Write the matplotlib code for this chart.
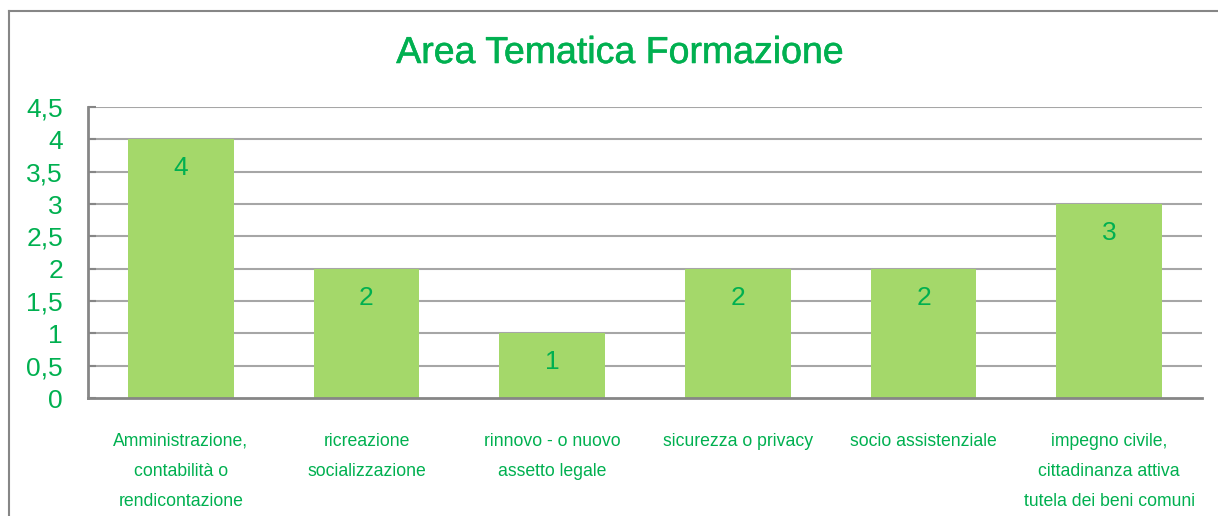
import matplotlib
matplotlib.use("Agg")
import matplotlib.pyplot as plt
from matplotlib.lines import Line2D
import matplotlib.patheffects as pe

categories = [
    "Amministrazione,\ncontabilità o\nrendicontazione",
    "ricreazione\nsocializzazione",
    "rinnovo - o nuovo\nassetto legale",
    "sicurezza o privacy",
    "socio assistenziale",
    "impegno civile,\ncittadinanza attiva\ntutela dei beni comuni",
]
values = [4, 2, 1, 2, 2, 3]
yticks = [0, 0.5, 1, 1.5, 2, 2.5, 3, 3.5, 4, 4.5]
ytick_labels = ["0", "0,5", "1", "1,5", "2", "2,5", "3", "3,5", "4", "4,5"]
title = "Area Tematica Formazione"

GREEN = "#00B050"
BAR = "#A4D86A"
GRID = "#A6A6A6"
SPINE = "#868686"

plt.rcParams["font.family"] = ["Liberation Sans", "DejaVu Sans"]

W, H = 1218, 516
fig = plt.figure(figsize=(W / 100, H / 100), dpi=100)
ax = fig.add_axes([88 / W, 1 - 398 / H, (1202 - 88) / W, (398 - 107) / H])

x = list(range(len(categories)))
ax.bar(x, values, width=0.57, color=BAR, zorder=3)
ax.set_xlim(-0.5, len(categories) - 0.5)
ax.set_ylim(0, 4.5)
ax.set_yticks(yticks)
ax.set_yticklabels(ytick_labels, fontsize=19, color=GREEN)
ax.tick_params(axis="y", direction="in", length=6, width=1.5, color=SPINE, pad=18)
ax.set_xticks(x)
ax.set_xticklabels([])
ax.tick_params(axis="x", length=0)
for yv in yticks[1:]:
    ax.axhline(yv, color=GRID, lw=1.5, zorder=1)
for s in ["right", "top"]:
    ax.spines[s].set_visible(False)
for s in ["left", "bottom"]:
    ax.spines[s].set_color(SPINE)
    ax.spines[s].set_linewidth(2)
    ax.spines[s].set_zorder(4)

for xi, v, lab in zip(x, values, categories):
    ax.annotate(str(v), (xi, v), xytext=(0, -29), textcoords="offset pixels",
                ha="center", va="center", fontsize=19, color=GREEN, zorder=5)
    ax.annotate(lab, (xi, 0), xytext=(0, -35), textcoords="offset pixels",
                ha="center", va="top", fontsize=12.7, color=GREEN,
                linespacing=2.0, annotation_clip=False)

fig.text(620 / W, 1 - 53 / H, title, ha="center", va="center", fontsize=27,
         color=GREEN,
         path_effects=[pe.withStroke(linewidth=0.4, foreground=GREEN)])

fig.add_artist(Line2D([9 / W, 9 / W], [0, 1 - 11 / H], transform=fig.transFigure, color=SPINE, lw=1.5))
fig.add_artist(Line2D([9 / W, 1], [1 - 11 / H, 1 - 11 / H], transform=fig.transFigure, color=SPINE, lw=1.5))

fig.savefig("out.png", dpi=100)
